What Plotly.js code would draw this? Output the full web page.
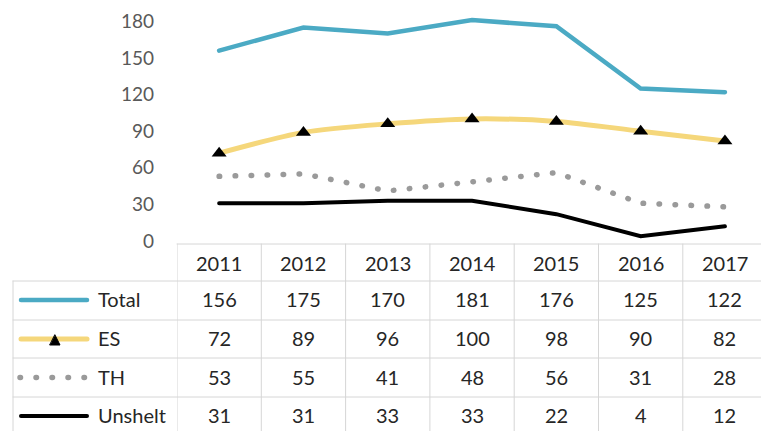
<!DOCTYPE html>
<html>
<head>
<meta charset="utf-8">
<script src="https://cdn.plot.ly/plotly-3.0.1.min.js"></script>
<style>
html,body{margin:0;padding:0;background:#fff;}
#chart{width:761px;height:431px;}
.scatterlayer .js-line{stroke-linecap:round;}
.shapelayer path{stroke-linecap:round;}
</style>
</head>
<body>
<div id="chart"></div>
<script>
// ---- data ----
const years = ["2011","2012","2013","2014","2015","2016","2017"];
const seriesNames = ["Total","ES","TH","Unshelt"];
const total = [156,175,170,181,176,125,122];
const es = [72,89,96,100,98,90,82];
const th = [53,55,41,48,56,31,28];
const unshelt = [31,31,33,33,22,4,12];
const yTicks = [0,30,60,90,120,150,180];

// ---- layout helpers (pixel -> paper) ----
const W = 761, H = 431, L = 177, PB = 241;
const plotW = W - L;
const py = p => (PB - p) / PB;          // pixel y -> paper y
const px = p => (p - L) / plotW;        // pixel x -> paper x

const font = "Lato, 'Open Sans', sans-serif";
const colors = {Total:"#4BAAC4", ES:"#F5D77B", TH:"#9A9A9A", Unshelt:"#000000"};

const traces = [
  {x: years, y: total, name: "Total", type: "scatter", mode: "lines",
   line: {color: colors.Total, width: 4.5}},
  {x: years, y: es, name: "ES", type: "scatter", mode: "lines+markers",
   line: {color: colors.ES, width: 5, shape: "spline", smoothing: 0.8},
   marker: {symbol: "triangle-up", size: 13, color: "#000"}},
  {x: years, y: th, name: "TH", type: "scatter", mode: "lines",
   line: {color: colors.TH, width: 5.5, dash: "0.5px,15.5px"}},
  {x: years, y: unshelt, name: "Unshelt", type: "scatter", mode: "lines",
   line: {color: colors.Unshelt, width: 4}}
];
const seriesVals = [total, es, th, unshelt];

// ---- table grid ----
const grid = "#d6d6d6";
const rowLines = [244, 281, 320, 358, 397, 436];
const shapes = [];
shapes.push({type:"line", xref:"paper", yref:"paper", x0:0, x1:1, y0:py(244), y1:py(244), line:{color:grid, width:1}});
for (let i = 1; i < rowLines.length; i++) {
  shapes.push({type:"line", xref:"paper", yref:"paper", x0:px(13), x1:1, y0:py(rowLines[i]), y1:py(rowLines[i]), line:{color:grid, width:1}});
}
shapes.push({type:"line", xref:"paper", yref:"paper", x0:px(13), x1:px(13), y0:py(281), y1:py(436), line:{color:grid, width:1}});
for (let i = 0; i <= years.length; i++) {
  shapes.push({type:"line", xref:"x", yref:"paper", x0:i-0.5, x1:i-0.5, y0:py(244), y1:py(436), line:{color:grid, width:1}});
}

// legend samples
const rowCenters = [300, 339, 377.5, 416];
shapes.push({type:"line", xref:"paper", yref:"paper", x0:px(21), x1:px(87), y0:py(rowCenters[0]), y1:py(rowCenters[0]), line:{color:colors.Total, width:4.5}});
shapes.push({type:"line", xref:"paper", yref:"paper", x0:px(21), x1:px(87), y0:py(rowCenters[1]), y1:py(rowCenters[1]), line:{color:colors.ES, width:5}});
{
  const cx = 55, cy = rowCenters[1] + 1;
  shapes.push({type:"path", xref:"paper", yref:"paper",
    path:`M ${px(cx-5)} ${py(cy+5)} L ${px(cx+5)} ${py(cy+5)} L ${px(cx)} ${py(cy-5)} Z`,
    fillcolor:"#000", line:{color:"#000", width:1}});
}
shapes.push({type:"line", xref:"paper", yref:"paper", x0:px(20), x1:px(86), y0:py(rowCenters[2]), y1:py(rowCenters[2]), line:{color:colors.TH, width:5.5, dash:"0.5px,15.5px"}});
shapes.push({type:"line", xref:"paper", yref:"paper", x0:px(21), x1:px(87), y0:py(rowCenters[3]), y1:py(rowCenters[3]), line:{color:colors.Unshelt, width:4}});

// ---- annotations ----
const textColor = "#262626";
const annotations = [];
years.forEach((yr, i) => {
  annotations.push({x: i, xref:"x", y: py(262.5), yref:"paper", text: yr, showarrow:false,
    font:{family:font, size:20, color:textColor}, xanchor:"center", yanchor:"middle"});
});
seriesNames.forEach((nm, r) => {
  annotations.push({x: px(96), xref:"paper", y: py(rowCenters[r] - 1), yref:"paper", text: nm, showarrow:false,
    font:{family:font, size:20, color:textColor}, xanchor:"left", yanchor:"middle"});
  seriesVals[r].forEach((v, i) => {
    annotations.push({x: i, xref:"x", y: py(rowCenters[r] - 1), yref:"paper", text: String(v), showarrow:false,
      font:{family:font, size:20, color:textColor}, xanchor:"center", yanchor:"middle"});
  });
});

const layout = {
  width: W, height: H,
  margin: {l: L, r: 0, t: 0, b: H - PB, pad: 0},
  paper_bgcolor: "#fff", plot_bgcolor: "#fff",
  showlegend: false,
  xaxis: {type:"category", categoryarray: years, range:[-0.5, -0.5 + plotW / 84.3],
    showticklabels:false, showgrid:false, zeroline:false, showline:false, ticks:""},
  yaxis: {range:[0, 197.5], tickvals: yTicks, ticktext: yTicks.map(String),
    showgrid:false, zeroline:false, showline:false, ticks:"", ticklabelstandoff: 22,
    tickfont:{family:font, size:19, color:"#595959"}},
  shapes: shapes,
  annotations: annotations
};

Plotly.newPlot("chart", traces, layout, {staticPlot:true, displayModeBar:false});
</script>
</body>
</html>
